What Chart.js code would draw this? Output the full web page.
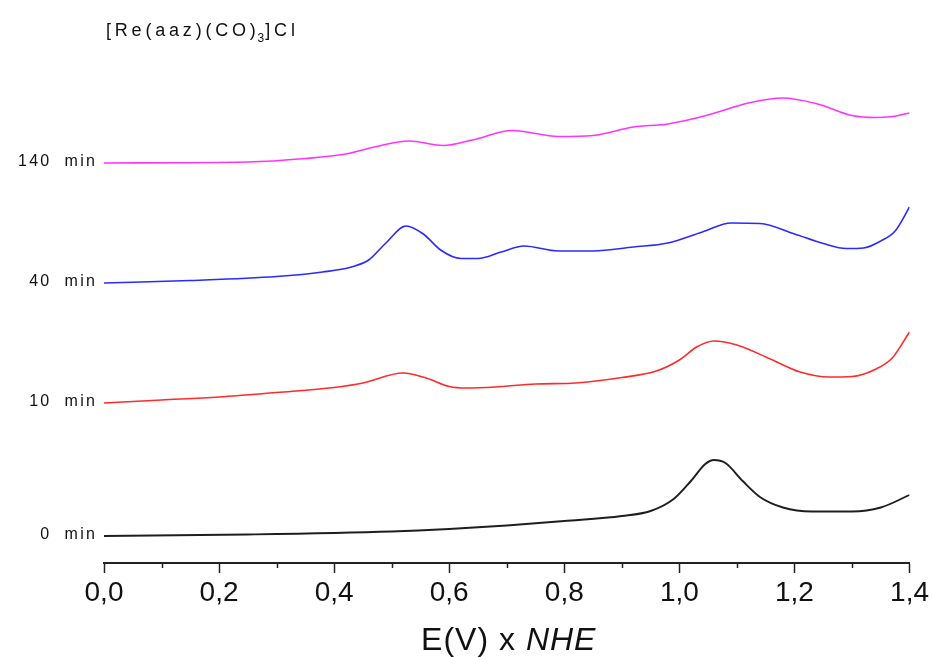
<!DOCTYPE html>
<html>
<head>
<meta charset="utf-8">
<title>Voltammogramas</title>
<script src="https://cdn.jsdelivr.net/npm/chart.js@4.4.0/dist/chart.umd.min.js"></script>
<style>
  html, body { margin: 0; padding: 0; background: #fff; }
  #wrap { width: 932px; height: 657px; position: relative; }
</style>
</head>
<body>
<div id="wrap"><canvas id="cvChart"></canvas></div>
<script>
// potential (V vs NHE) and stacked current (arb. units) for each scan
const potential0 = [0, 0.25, 0.5, 0.6, 0.7, 0.8, 0.9, 0.95, 0.99, 1.02, 1.045, 1.06, 1.08, 1.11, 1.14, 1.18, 1.23, 1.3, 1.35, 1.4];
const current0 = [2.7, 2.85, 3.15, 3.4, 3.75, 4.2, 4.7, 5.2, 6.4, 8.2, 9.9, 10.3, 10.0, 8.2, 6.6, 5.55, 5.15, 5.15, 5.55, 6.8];

const potential10 = [0, 0.1, 0.2, 0.3, 0.4, 0.45, 0.52, 0.56, 0.6, 0.63, 0.68, 0.75, 0.82, 0.9, 0.96, 1.0, 1.03, 1.06, 1.1, 1.16, 1.21, 1.26, 1.3, 1.34, 1.37, 1.4];
const current10 = [16.0, 16.3, 16.6, 17.05, 17.55, 18.0, 19.0, 18.5, 17.65, 17.5, 17.6, 17.9, 18.0, 18.55, 19.2, 20.3, 21.6, 22.2, 21.8, 20.35, 19.1, 18.6, 18.65, 19.35, 20.5, 23.1];

const potential40 = [0, 0.15, 0.3, 0.38, 0.43, 0.46, 0.49, 0.525, 0.555, 0.585, 0.62, 0.65, 0.69, 0.73, 0.79, 0.85, 0.92, 0.98, 1.04, 1.09, 1.14, 1.2, 1.25, 1.29, 1.32, 1.35, 1.375, 1.4];
const current40 = [28.0, 28.25, 28.65, 29.1, 29.6, 30.3, 32.0, 33.7, 32.9, 31.3, 30.45, 30.45, 31.1, 31.7, 31.2, 31.2, 31.6, 32.0, 33.1, 34.0, 33.95, 32.9, 31.95, 31.45, 31.5, 32.2, 33.2, 35.6];

const potential140 = [0, 0.25, 0.35, 0.42, 0.47, 0.53, 0.59, 0.64, 0.71, 0.79, 0.85, 0.92, 0.98, 1.05, 1.12, 1.18, 1.24, 1.3, 1.34, 1.37, 1.4];
const current140 = [40.0, 40.1, 40.45, 40.9, 41.6, 42.2, 41.75, 42.3, 43.25, 42.65, 42.75, 43.6, 43.9, 44.8, 46.0, 46.5, 45.9, 44.75, 44.55, 44.65, 45.0];

const scanLabels = ['0 min', '10 min', '40 min', '140 min'];
const xTicks = [0, 0.2, 0.4, 0.6, 0.8, 1.0, 1.2, 1.4];
const xMinorTicks = [0.1, 0.3, 0.5, 0.7, 0.9, 1.1, 1.3];

const SANS = "'Liberation Sans', Arial, sans-serif";

function toPoints(xs, ys) {
    return xs.map((x, i) => ({ x: x, y: ys[i] }));
}

const scans = [
    { label: scanLabels[0], data: toPoints(potential0, current0), color: '#1e1e1e', width: 1.9 },
    { label: scanLabels[1], data: toPoints(potential10, current10), color: '#ff2a2a', width: 1.6 },
    { label: scanLabels[2], data: toPoints(potential40, current40), color: '#2a2aff', width: 1.6 },
    { label: scanLabels[3], data: toPoints(potential140, current140), color: '#ff33ff', width: 1.6 }
];

// small ticks between the labelled ones
const minorTickPlugin = {
    id: 'minorTicks',
    afterDraw(chart) {
        const xs = chart.scales.x;
        const ctx = chart.ctx;
        ctx.save();
        ctx.strokeStyle = '#222';
        ctx.lineWidth = 1.5;
        xMinorTicks.forEach(v => {
            const px = Math.round(xs.getPixelForValue(v)) + 0.5;
            ctx.beginPath();
            ctx.moveTo(px, xs.top);
            ctx.lineTo(px, xs.top + 5);
            ctx.stroke();
        });
        ctx.restore();
    }
};

// "x min" text to the left of where each trace starts
const scanLabelPlugin = {
    id: 'scanLabels',
    afterDatasetsDraw(chart) {
        const ctx = chart.ctx;
        ctx.save();
        ctx.font = '16px ' + SANS;
        ctx.letterSpacing = '2.2px';
        ctx.fillStyle = '#111';
        ctx.textAlign = 'right';
        ctx.textBaseline = 'alphabetic';
        chart.data.datasets.forEach((ds, i) => {
            const first = chart.getDatasetMeta(i).data[0];
            ctx.fillText(ds.label.replace(' ', '  '), 97, first.y + 3);
        });
        ctx.restore();
    }
};

// compound name at the top and the axis title with italic NHE
const textPlugin = {
    id: 'extraText',
    afterDraw(chart) {
        const ctx = chart.ctx;
        ctx.save();
        ctx.fillStyle = '#111';
        ctx.textBaseline = 'alphabetic';
        ctx.letterSpacing = '3.8px';

        let x = 106;
        const y = 36;
        ctx.font = '18px ' + SANS;
        const partA = '[Re(aaz)(CO)';
        ctx.fillText(partA, x, y);
        x += ctx.measureText(partA).width - 2;
        ctx.font = '12px ' + SANS;
        ctx.letterSpacing = '1px';
        ctx.fillText('3', x, y + 6);
        x += ctx.measureText('3').width;
        ctx.font = '18px ' + SANS;
        ctx.letterSpacing = '3.8px';
        ctx.fillText(']Cl', x, y);

        ctx.letterSpacing = '1px';
        const xs = chart.scales.x;
        const cx = (xs.left + xs.right) / 2 + 2;
        ctx.font = '32px ' + SANS;
        const t1 = 'E(V) x ';
        const w1 = ctx.measureText(t1).width;
        ctx.font = 'italic 32px ' + SANS;
        const t2 = 'NHE';
        const w2 = ctx.measureText(t2).width;
        const start = cx - (w1 + w2) / 2;
        ctx.font = '32px ' + SANS;
        ctx.fillText(t1, start, 650);
        ctx.font = 'italic 32px ' + SANS;
        ctx.fillText(t2, start + w1, 650);
        ctx.restore();
    }
};

const chart = new Chart(document.getElementById('cvChart'), {
    type: 'line',
    data: {
        datasets: scans.map(s => ({
            label: s.label,
            data: s.data,
            borderColor: s.color,
            backgroundColor: s.color,
            borderWidth: s.width,
            pointRadius: 0,
            cubicInterpolationMode: 'monotone',
            fill: false
        }))
    },
    options: {
        responsive: true,
        maintainAspectRatio: false,
        animation: false,
        layout: { padding: { left: 104, right: 22, top: 23, bottom: 0 } },
        plugins: {
            legend: { display: false },
            tooltip: { enabled: false }
        },
        scales: {
            x: {
                type: 'linear',
                min: 0,
                max: 1.4,
                afterBuildTicks: (scale) => {
                    scale.ticks = xTicks.map(v => ({ value: v }));
                },
                afterFit: (scale) => { scale.height = 94; },
                border: { display: true, color: '#222', width: 2 },
                grid: {
                    drawOnChartArea: false,
                    drawTicks: true,
                    tickLength: 10,
                    tickColor: '#222',
                    tickWidth: 1.5
                },
                ticks: {
                    padding: 3,
                    color: '#111',
                    maxRotation: 0,
                    font: { family: SANS, size: 28 },
                    callback: (v) => Number(v).toFixed(1).replace('.', ',')
                }
            },
            y: {
                display: false,
                min: 0,
                max: 54
            }
        }
    },
    plugins: [minorTickPlugin, scanLabelPlugin, textPlugin]
});
</script>
</body>
</html>
